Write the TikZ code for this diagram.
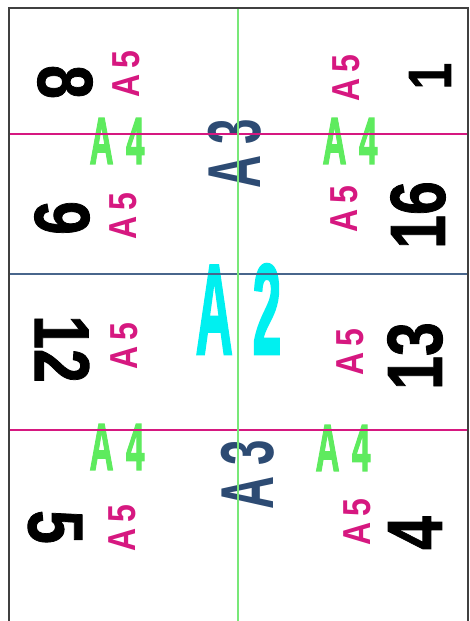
\documentclass[tikz,border=0pt]{standalone}
\usepackage{fontspec}
\setmainfont{Liberation Sans}
\newfontfamily\heavysans{Liberation Sans Bold}[FakeBold=2.5]
\newfontfamily\digitsans{Liberation Sans Bold}[FakeBold=1.2]
\usetikzlibrary{positioning}
\definecolor{fivepink}{RGB}{214,24,128}
\definecolor{fourgreen}{RGB}{94,235,94}
\definecolor{foldgreen}{RGB}{120,232,120}
\definecolor{foldblue}{RGB}{72,102,140}
\definecolor{threeblue}{RGB}{45,75,115}
\definecolor{twocyan}{RGB}{0,240,240}
\newcommand{\slim}[2]{\scalebox{#1}[1]{#2}}

\begin{document}
\begin{tikzpicture}[
  x=1pt, y=-1pt,
  num/.style={inner sep=0pt, font=\fontsize{78}{78}\selectfont\digitsans},
  numl/.style={num, rotate=-90},
  numr/.style={num, rotate=90},
  afive/.style={inner sep=0pt, rotate=90, text=fivepink, font=\fontsize{39}{39}\selectfont\bfseries},
  afour/.style={inner sep=0pt, text=fourgreen, font=\fontsize{66}{66}\selectfont\heavysans},
  athree/.style={inner sep=0pt, rotate=90, text=threeblue, font=\fontsize{75}{75}\selectfont\bfseries},
  atwo/.style={inner sep=0pt, text=twocyan, font=\fontsize{128}{128}\selectfont\heavysans},
  fold/.style={line width=1.8pt}
]
\useasboundingbox (0,0) rectangle (470,621);
\fill[white] (0,0) rectangle (470,621);

% page numbers
\node[numl] (p8) at (65,82) {\slim{0.78}{8}};
\node[numr, font=\fontsize{61}{61}\selectfont\digitsans] (p1) at (430,76) {\slim{0.78}{1}};
\node[numl] (p9) at (62,218) {\slim{0.78}{9}};
\node[numr] (p16) at (418,215) {\slim{0.78}{16}};
\node[numl] (p12) at (62,349) {\slim{0.78}{12}};
\node[numr] (p13) at (415,356) {\slim{0.78}{13}};
\node[numl] (p5) at (55,527) {\slim{0.78}{5}};
\node[numr] (p4) at (415,533) {\slim{0.78}{4}};

% A5 labels
\node[afive] (a5a) at (126,74) {\slim{0.82}{A\kern7pt5}};
\node[afive] (a5b) at (346,78) {\slim{0.82}{A\kern7pt5}};
\node[afive] (a5c) at (123,216) {\slim{0.82}{A\kern7pt5}};
\node[afive] (a5d) at (344,209) {\slim{0.82}{A\kern7pt5}};
\node[afive] (a5e) at (124,346) {\slim{0.82}{A\kern7pt5}};
\node[afive] (a5f) at (350,352) {\slim{0.82}{A\kern7pt5}};
\node[afive] (a5g) at (122,528) {\slim{0.82}{A\kern7pt5}};
\node[afive] (a5h) at (357,522) {\slim{0.82}{A\kern7pt5}};

% A4, A3, A2 labels
\node[afour] (a4a) at (117,141) {\slim{0.5}{A\kern25pt4}};
\node[afour] (a4b) at (350,141) {\slim{0.5}{A\kern25pt4}};
\node[afour] (a4c) at (117,447) {\slim{0.5}{A\kern25pt4}};
\node[afour] (a4d) at (343,448) {\slim{0.5}{A\kern25pt4}};
\node[athree] (a3a) at (235,154) {\slim{0.61}{A\kern18pt3}};
\node[athree] (a3b) at (248,475) {\slim{0.61}{A\kern18pt3}};
\node[atwo] (a2) at (238.5,309) {\slim{0.4}{A\kern50pt2}};

% fold lines
\draw[fold, fivepink] (9,134) -- (468,134);
\draw[fold, fivepink] (9,430) -- (468,430);
\draw[line width=1.3pt, foldblue] (9,274) -- (468,274);
\draw[fold, foldgreen] (238,8) -- (238,621);

% sheet edge
\draw[line width=1.6pt, black!75] (9,621) -- (9,8) -- (468,8) -- (468,621);
\end{tikzpicture}
\end{document}
